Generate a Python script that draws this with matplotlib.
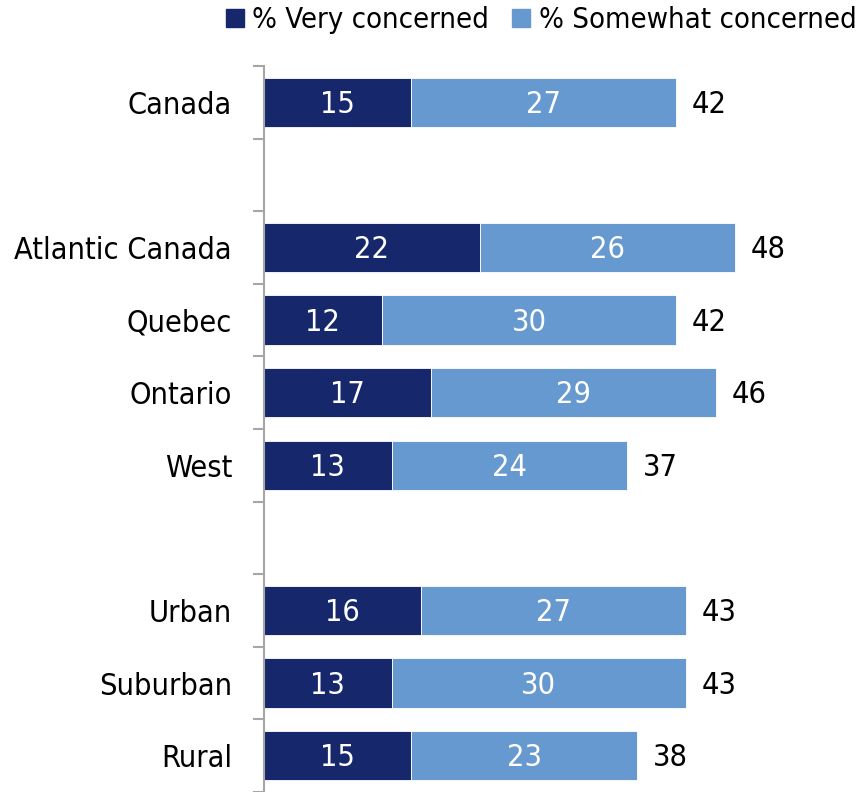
import matplotlib
matplotlib.use("Agg")
import matplotlib.pyplot as plt
import numpy as np

# regional concern, stacked horizontal bars
categories = ["Canada", "", "Atlantic Canada", "Quebec", "Ontario", "West",
              "", "Urban", "Suburban", "Rural"]
very = [15, None, 22, 12, 17, 13, None, 16, 13, 15]
somewhat = [27, None, 26, 30, 29, 24, None, 27, 30, 23]
totals = [42, None, 48, 42, 46, 37, None, 43, 43, 38]

dark = "#16286b"
light = "#6699cf"

plt.rcParams["font.family"] = ["DejaVu Sans"]
plt.rcParams["font.stretch"] = "condensed"
fs = 22

fig = plt.figure(figsize=(8.58, 7.92), dpi=100)
ax = fig.add_axes([264 / 858, 0.0, 1 - 264 / 858, 1 - 66 / 792])

for i, (v, s, t) in enumerate(zip(very, somewhat, totals)):
    if v is None:
        continue
    ax.barh(i, v, height=0.68, color=dark, edgecolor="white", linewidth=0.6)
    ax.barh(i, s, left=v, height=0.68, color=light, edgecolor="white", linewidth=0.6)
    ax.text(v / 2, i + 0.03, str(v), color="white", ha="center", va="center", fontsize=fs)
    ax.text(v + s / 2, i + 0.03, str(s), color="white", ha="center", va="center", fontsize=fs)
    ax.text(t + 1.6, i + 0.03, str(t), color="black", ha="left", va="center", fontsize=fs)

ax.set_ylim(9.5, -0.5)
ax.set_xlim(0, 60.5)
ax.set_yticks(np.arange(len(categories)))
ax.set_yticklabels(categories, fontsize=fs)
ax.set_yticks(np.arange(-0.5, 10, 1), minor=True)
ax.tick_params(axis="y", which="major", length=0, pad=23)
ax.tick_params(axis="y", which="minor", length=8, width=1.5, color="#a6a6a6")
ax.set_xticks([])
for side in ["top", "right", "bottom"]:
    ax.spines[side].set_visible(False)
ax.spines["left"].set_color("#a6a6a6")
ax.spines["left"].set_linewidth(1.5)

handles = [plt.Rectangle((0, 0), 1, 1, color=dark),
           plt.Rectangle((0, 0), 1, 1, color=light)]
fig.legend(handles, ["% Very concerned", "% Somewhat concerned"],
           loc="upper right", bbox_to_anchor=(1.022, 1.018), ncol=2, frameon=False,
           fontsize=21, handlelength=0.6, handleheight=0.6, handletextpad=0.3,
           columnspacing=0.8, borderpad=0.2)

fig.savefig("out.png", dpi=100)
